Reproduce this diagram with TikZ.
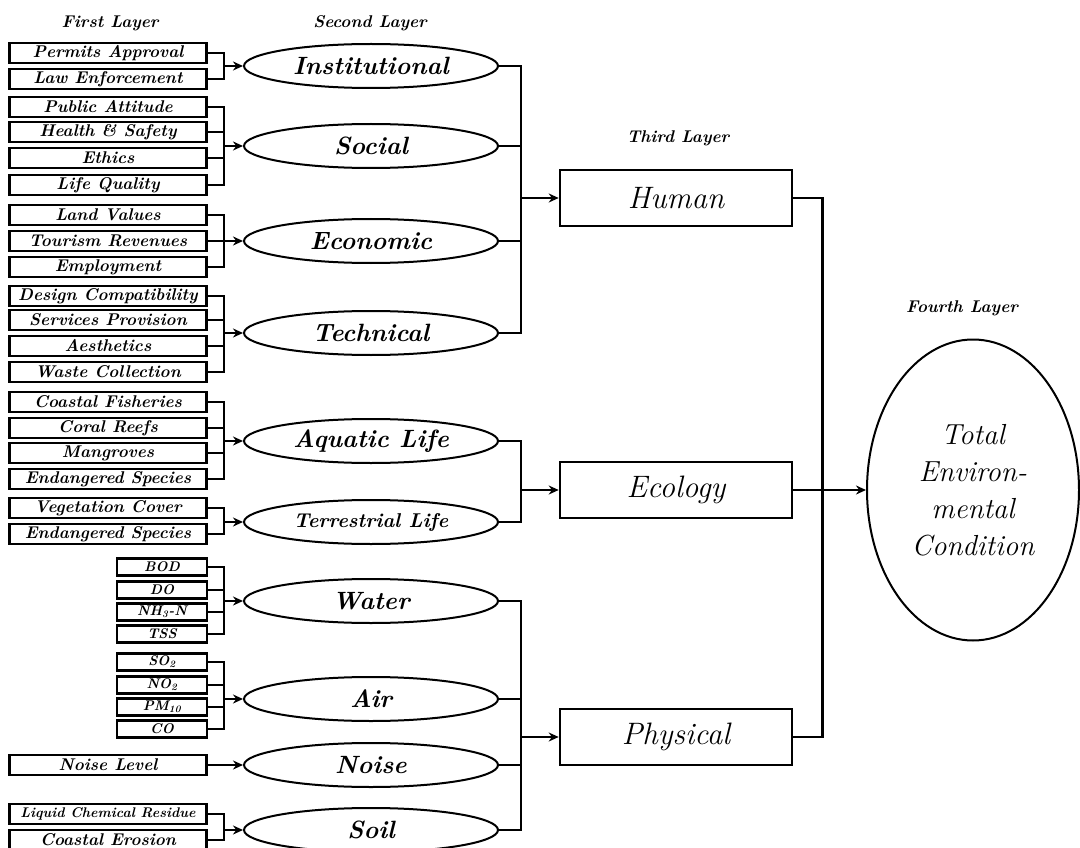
\documentclass[tikz,border=0pt]{standalone}
\usepackage{tikz}
\usetikzlibrary{shapes.geometric,arrows.meta}

\begin{document}
\begin{tikzpicture}[x=1pt,y=-1pt,
  layer/.style={font=\fontsize{17}{19}\selectfont\bfseries\itshape},
  fact/.style={draw, line width=2.6pt, minimum width=197pt, minimum height=20pt, inner sep=0pt,
    font=\fontsize{17}{19}\selectfont\bfseries\itshape},
  sfact/.style={fact, minimum width=90pt, minimum height=17pt, font=\fontsize{14}{16}\selectfont\bfseries\itshape},
  crit/.style={ellipse, draw, line width=2pt, minimum width=254pt, minimum height=44pt, inner sep=0pt,
    font=\fontsize{25}{28}\selectfont\bfseries\itshape},
  group/.style={draw, line width=2.6pt, minimum width=232pt, minimum height=56pt, inner sep=0pt,
    font=\fontsize{31}{34}\selectfont\itshape},
  link/.style={line width=2.4pt},
  arr/.style={link, -{Stealth[length=10pt,width=9pt]}}]

\useasboundingbox (0,0) rectangle (1080,848);

\node[layer] (L1) at (110,23){First Layer};
\node[layer] (L2) at (370,23){Second Layer};
\node[layer] (L3) at (678,138){Third Layer};
\node[layer] (L4) at (962,308){Fourth Layer};

\node[fact] (PA) at (108,53){Permits Approval};
\node[fact] (LE) at (108,79){Law Enforcement};
\node[fact] (PU) at (108,107){Public Attitude};
\node[fact] (HS) at (108,132){Health \& Safety};
\node[fact] (ET) at (108,158){Ethics};
\node[fact] (LQ) at (108,185){Life Quality};
\node[fact] (LV) at (108,215){Land Values};
\node[fact] (TR) at (108,241){Tourism Revenues};
\node[fact] (EM) at (108,267){Employment};
\node[fact] (DC) at (108,296){Design Compatibility};
\node[fact] (SP) at (108,320){Services Provision};
\node[fact] (AE) at (108,346){Aesthetics};
\node[fact] (WC) at (108,372){Waste Collection};
\node[fact] (CF) at (108,402){Coastal Fisheries};
\node[fact] (CR) at (108,428){Coral Reefs};
\node[fact] (MG) at (108,453){Mangroves};
\node[fact] (ESa) at (108,479){Endangered Species};
\node[fact] (VC) at (108,508){Vegetation Cover};
\node[fact] (ESb) at (108,534){Endangered Species};
\node[sfact] (BOD) at (162,567){BOD};
\node[sfact] (DO) at (162,590){DO};
\node[sfact] (NH) at (162,612){NH\textsubscript{3}-N};
\node[sfact] (TSS) at (162,634){TSS};
\node[sfact] (SO) at (162,662){SO\textsubscript{2}};
\node[sfact] (NO) at (162,685){NO\textsubscript{2}};
\node[sfact] (PM) at (162,707){PM\textsubscript{10}};
\node[sfact] (CO) at (162,729){CO};
\node[fact] (NL) at (108,765){Noise Level};
\node[fact, font=\fontsize{14}{16}\selectfont\bfseries\itshape] (LC) at (108,814){Liquid Chemical Residue};
\node[fact] (CE) at (108,840){Coastal Erosion};

\node[crit] (INS) at (371,66){Institutional};
\node[crit] (SOC) at (371,146){Social};
\node[crit] (ECO) at (371,241){Economic};
\node[crit] (TEC) at (371,333){Technical};
\node[crit] (AQL) at (371,441){Aquatic Life};
\node[crit, font=\fontsize{20}{23}\selectfont\bfseries\itshape] (TEL) at (371,522){Terrestrial Life};
\node[crit] (WAT) at (371,601){Water};
\node[crit] (AIR) at (371,699){Air};
\node[crit] (NOI) at (371,765){Noise};
\node[crit] (SOI) at (371,830){Soil};

\node[group] (HUM) at (676,198){Human};
\node[group] (ECL) at (676,490){Ecology};
\node[group] (PHY) at (676,737){Physical};

\node[ellipse, draw, line width=2pt, minimum width=212pt, minimum height=301pt, inner sep=0pt,
  align=center, font=\fontsize{29}{37}\selectfont\itshape] (TOT) at (973,490){Total\\Environ-\\mental\\Condition};

\foreach \e in {INS,SOC,ECO,TEC,AQL,TEL,WAT,AIR,NOI,SOI}
  \path (\e.west) ++(-19,0) coordinate (j\e);
\foreach \g in {HUM,ECL,PHY}
  \path (\g.west) ++(-38,0) coordinate (j\g);
\path (ECL.east) ++(29,0) coordinate (jTOT);

\foreach \from/\to in
{PA/INS,LE/INS,PU/SOC,HS/SOC,ET/SOC,LQ/SOC,LV/ECO,TR/ECO,EM/ECO,DC/TEC,SP/TEC,AE/TEC,WC/TEC,
 CF/AQL,CR/AQL,MG/AQL,ESa/AQL,VC/TEL,ESb/TEL,BOD/WAT,DO/WAT,NH/WAT,TSS/WAT,
 SO/AIR,NO/AIR,PM/AIR,CO/AIR,NL/NOI,LC/SOI,CE/SOI}
\draw[link] (\from.east) -| (j\to);
\foreach \e in {INS,SOC,ECO,TEC,AQL,TEL,WAT,AIR,NOI,SOI}
\draw[arr] (j\e) -- (\e.west);

\foreach \from/\to in
{INS/HUM,SOC/HUM,ECO/HUM,TEC/HUM,AQL/ECL,TEL/ECL,WAT/PHY,AIR/PHY,NOI/PHY,SOI/PHY}
\draw[link] (\from.east) -| (j\to);
\foreach \g in {HUM,ECL,PHY}
\draw[arr] (j\g) -- (\g.west);

\draw[link] (HUM.east) -| (jTOT);
\draw[link] (PHY.east) -| (jTOT);
\draw[arr] (ECL.east) -- (TOT.west);
\end{tikzpicture}
\end{document}
